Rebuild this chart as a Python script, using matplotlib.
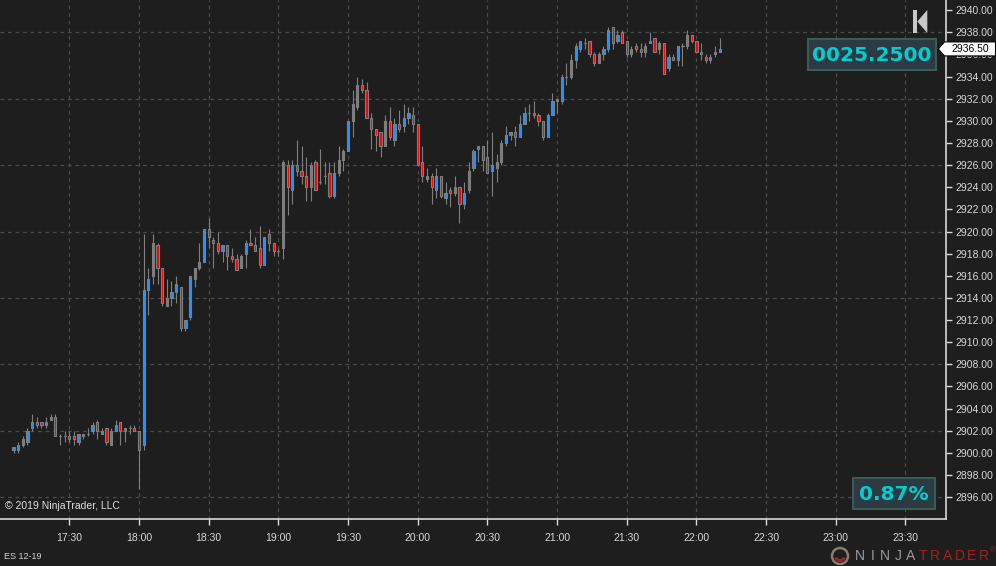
import matplotlib
matplotlib.use('Agg')
import matplotlib.pyplot as plt
import matplotlib.dates as mdates
import matplotlib.transforms as mtransforms
from matplotlib.patches import Rectangle, Polygon, Circle, Wedge
from matplotlib.ticker import FixedLocator, StrMethodFormatter
import numpy as np
import pandas as pd

plt.rcParams['font.family'] = ['Liberation Sans', 'DejaVu Sans']

# ES 12-19, 2 minute bars
bar_start = '2019-09-22 17:06'
opens = [2900.25, 2900.25, 2900.75, 2901.00, 2902.25, 2902.75, 2902.75, 2902.50, 2903.00, 2903.25,
         2901.50, 2901.50, 2901.50, 2901.50, 2901.00, 2901.50, 2901.75, 2902.00, 2902.75, 2901.75,
         2902.25, 2900.75, 2902.00, 2902.75, 2902.00, 2902.25, 2902.25, 2902.00, 2900.75, 2914.75,
         2916.00, 2918.75, 2916.75, 2913.25, 2914.00, 2914.50, 2915.00, 2911.25, 2912.25, 2915.75,
         2916.75, 2917.25, 2920.25, 2919.25, 2919.00, 2918.25, 2918.75, 2917.75, 2917.50, 2916.75,
         2918.00, 2919.00, 2918.75, 2918.50, 2917.00, 2919.75, 2919.00, 2918.25, 2918.50, 2926.00,
         2923.75, 2926.00, 2925.50, 2925.00, 2924.00, 2926.25, 2924.50, 2925.00, 2925.25, 2923.25,
         2925.25, 2926.50, 2927.25, 2930.00, 2931.25, 2933.25, 2932.75, 2930.25, 2929.25, 2929.00,
         2927.75, 2930.00, 2928.25, 2929.75, 2929.50, 2930.25, 2930.50, 2929.75, 2926.25, 2924.75,
         2925.00, 2923.75, 2925.00, 2923.00, 2923.75, 2923.50, 2924.00, 2922.50, 2923.75, 2925.75,
         2927.50, 2927.75, 2926.75, 2925.50, 2925.75, 2926.25, 2928.00, 2928.75, 2929.00, 2928.50,
         2929.75, 2930.75, 2930.75, 2930.50, 2930.00, 2928.50, 2930.50, 2931.75, 2931.75, 2934.00,
         2934.00, 2935.50, 2936.50, 2937.00, 2937.25, 2936.00, 2935.25, 2936.00, 2936.50, 2938.50,
         2937.25, 2938.00, 2937.25, 2936.00, 2936.75, 2936.50, 2936.25, 2937.00, 2937.50, 2936.50,
         2937.00, 2934.75, 2935.75, 2935.50, 2936.75, 2936.75, 2937.75, 2937.25, 2936.25, 2935.75,
         2935.50, 2936.00, 2936.25]
highs = [2900.50, 2901.00, 2901.50, 2902.25, 2903.50, 2903.25, 2902.75, 2903.25, 2903.50, 2903.50,
         2901.75, 2902.00, 2902.00, 2902.00, 2901.75, 2901.75, 2902.25, 2902.75, 2903.00, 2902.25,
         2902.25, 2902.25, 2903.00, 2902.75, 2902.25, 2902.50, 2902.50, 2902.00, 2919.75, 2916.75,
         2919.75, 2919.00, 2916.75, 2915.75, 2915.50, 2916.00, 2915.00, 2912.00, 2916.00, 2916.75,
         2919.00, 2920.25, 2921.25, 2919.50, 2920.00, 2918.75, 2918.75, 2918.50, 2918.00, 2918.00,
         2919.25, 2920.25, 2919.50, 2920.50, 2919.50, 2920.25, 2919.00, 2918.50, 2926.50, 2926.50,
         2926.50, 2928.25, 2927.75, 2926.75, 2926.25, 2926.50, 2927.50, 2926.25, 2926.25, 2926.25,
         2927.75, 2927.50, 2930.00, 2932.75, 2934.00, 2933.75, 2933.50, 2930.75, 2929.25, 2929.00,
         2930.50, 2931.25, 2930.25, 2931.00, 2931.50, 2931.25, 2931.25, 2929.75, 2927.75, 2925.75,
         2925.25, 2925.75, 2925.00, 2924.50, 2924.00, 2925.00, 2924.00, 2924.50, 2926.25, 2927.50,
         2927.75, 2927.75, 2928.25, 2929.00, 2927.00, 2928.25, 2929.50, 2929.00, 2929.50, 2930.50,
         2931.25, 2931.50, 2931.75, 2930.75, 2930.00, 2930.75, 2932.50, 2932.00, 2934.25, 2935.25,
         2936.00, 2937.00, 2937.25, 2937.50, 2937.25, 2936.25, 2936.25, 2936.75, 2938.50, 2938.50,
         2938.25, 2938.25, 2937.25, 2936.75, 2937.00, 2937.00, 2937.00, 2938.00, 2937.50, 2937.25,
         2937.00, 2936.00, 2936.00, 2936.75, 2937.00, 2938.25, 2937.75, 2937.25, 2937.00, 2936.00,
         2936.00, 2936.75, 2937.50]
lows = [2900.00, 2900.00, 2900.50, 2900.75, 2902.00, 2902.25, 2902.25, 2902.25, 2903.00, 2901.50,
        2900.75, 2901.00, 2901.00, 2900.75, 2900.75, 2901.25, 2901.50, 2901.75, 2901.25, 2901.75,
        2900.75, 2900.75, 2902.00, 2900.75, 2901.00, 2901.75, 2902.00, 2896.75, 2900.25, 2912.50,
        2915.25, 2915.25, 2913.25, 2913.25, 2913.25, 2913.50, 2911.00, 2911.00, 2912.00, 2915.00,
        2916.50, 2917.25, 2918.50, 2916.75, 2918.00, 2917.25, 2916.50, 2917.25, 2916.50, 2916.75,
        2916.75, 2918.75, 2918.25, 2916.75, 2917.00, 2918.25, 2917.75, 2917.75, 2917.50, 2921.50,
        2922.50, 2925.00, 2924.25, 2922.75, 2922.75, 2923.75, 2924.25, 2924.25, 2923.00, 2923.00,
        2925.00, 2925.50, 2927.25, 2928.50, 2931.00, 2932.50, 2930.25, 2927.50, 2927.25, 2926.75,
        2927.75, 2928.25, 2927.75, 2929.00, 2929.00, 2929.75, 2929.00, 2926.00, 2924.50, 2924.50,
        2922.50, 2923.00, 2923.00, 2922.50, 2922.25, 2923.25, 2920.75, 2922.00, 2923.50, 2925.50,
        2926.25, 2925.50, 2925.25, 2923.25, 2924.50, 2926.00, 2927.75, 2928.25, 2927.75, 2928.50,
        2929.75, 2930.00, 2930.25, 2929.50, 2928.25, 2928.50, 2930.50, 2930.75, 2931.50, 2933.25,
        2933.75, 2934.75, 2936.25, 2936.50, 2935.75, 2935.00, 2935.25, 2935.50, 2936.25, 2936.50,
        2937.00, 2937.00, 2935.75, 2935.75, 2936.25, 2935.75, 2935.75, 2937.00, 2936.25, 2936.00,
        2934.25, 2934.50, 2935.50, 2935.00, 2935.00, 2936.50, 2937.00, 2936.25, 2935.50, 2935.25,
        2935.25, 2935.75, 2936.25]
closes = [2900.50, 2900.75, 2901.25, 2902.00, 2902.75, 2902.50, 2902.50, 2902.75, 2903.25, 2901.50,
          2901.50, 2901.50, 2901.25, 2901.25, 2901.75, 2901.75, 2901.75, 2902.50, 2902.00, 2902.00,
          2901.00, 2902.00, 2902.50, 2902.00, 2902.25, 2902.25, 2902.00, 2900.25, 2914.75, 2915.75,
          2919.00, 2916.75, 2913.50, 2914.00, 2914.50, 2915.25, 2911.25, 2912.00, 2916.00, 2916.75,
          2917.25, 2920.25, 2919.50, 2919.00, 2918.25, 2918.75, 2917.75, 2917.50, 2916.50, 2917.75,
          2919.00, 2918.75, 2918.25, 2917.00, 2919.50, 2919.00, 2918.25, 2918.25, 2926.25, 2924.00,
          2926.00, 2925.50, 2925.00, 2924.00, 2926.00, 2923.75, 2924.50, 2925.00, 2923.25, 2925.25,
          2926.50, 2927.25, 2930.00, 2931.50, 2933.25, 2932.75, 2930.25, 2929.25, 2928.75, 2927.75,
          2930.00, 2928.50, 2929.75, 2929.25, 2930.25, 2930.75, 2929.75, 2926.00, 2925.00, 2925.00,
          2924.00, 2925.00, 2923.25, 2923.50, 2923.50, 2924.00, 2922.50, 2923.50, 2925.50, 2927.25,
          2927.75, 2926.50, 2925.25, 2926.00, 2926.25, 2928.00, 2928.75, 2929.00, 2928.50, 2929.75,
          2930.75, 2930.75, 2930.50, 2930.00, 2928.50, 2930.50, 2931.75, 2932.00, 2934.00, 2934.00,
          2935.50, 2936.75, 2937.25, 2937.00, 2936.00, 2935.25, 2936.00, 2936.50, 2938.25, 2937.00,
          2937.75, 2937.00, 2936.00, 2936.50, 2936.50, 2936.25, 2936.75, 2937.25, 2936.25, 2937.00,
          2934.25, 2935.75, 2935.50, 2936.75, 2936.75, 2937.75, 2937.25, 2936.25, 2936.00, 2935.50,
          2935.75, 2936.25, 2936.50]

instrument = 'ES 12-19'
last_price = 2936.50
net_change = '0025.2500'
pct_change = '0.87%'
price_ticks = np.arange(2896, 2941, 2)

BG = '#1e1e1e'
UP = '#1e90ff'
DOWN = '#ff0000'
WICK = '#7f7f7f'
AXIS = '#d8d8d8'
GRID = '#4a4a4a'
CYAN = '#00ced1'
BOXBG = '#2c3a44'
BOXEDGE = '#3a5a56'

W, H = 996, 566


def fpos(px, py):
    # pixel position (from top left) -> figure fraction
    return px / W, 1 - py / H


fig = plt.figure(figsize=(W / 100, H / 100), dpi=100, facecolor=BG)
ax = fig.add_axes([0, 46.7 / H, 945.7 / W, 519.3 / H], facecolor=BG)

times = pd.date_range(bar_start, periods=len(closes), freq='2min')
x = mdates.date2num(times)
o = np.array(opens)
h = np.array(highs)
l = np.array(lows)
c = np.array(closes)
bw = 0.95 / 1440.0

body_colors = np.where(c > o, UP, np.where(c < o, DOWN, WICK))
ax.vlines(x, l, h, color=WICK, lw=0.8, zorder=2)
ax.bar(x, np.abs(c - o), width=bw, bottom=np.minimum(o, c), color=body_colors,
       edgecolor=WICK, linewidth=0.8, zorder=3)
doji = c == o
ax.hlines(o[doji], x[doji] - bw / 2, x[doji] + bw / 2, color=WICK, lw=1.0, zorder=3)

# axes ranges
ax.set_xlim(mdates.date2num(pd.Timestamp('2019-09-22 17:00:10')),
            mdates.date2num(pd.Timestamp('2019-09-22 23:47:20')))
ax.set_ylim(2894.0, 2940.92)

ax.xaxis.set_major_locator(mdates.MinuteLocator(byminute=[0, 30]))
ax.xaxis.set_major_formatter(mdates.DateFormatter('%H:%M'))
ax.yaxis.tick_right()
ax.yaxis.set_major_locator(FixedLocator(price_ticks))
ax.yaxis.set_major_formatter(StrMethodFormatter('{x:.2f}'))
ax.tick_params(axis='both', colors=AXIS, labelcolor=AXIS, labelsize=7.5, length=4, width=1, direction='out')
ax.tick_params(axis='x', pad=6)
ax.tick_params(axis='y', pad=3)

for side in ['top', 'left']:
    ax.spines[side].set_visible(False)
for side in ['right', 'bottom']:
    ax.spines[side].set_color(AXIS)
    ax.spines[side].set_linewidth(1.2)

# grid
ax.grid(axis='x', color=GRID, linestyle=(0, (3, 3)), linewidth=0.9)
for gy in np.arange(2896, 2941, 6):
    ax.axhline(gy, color=GRID, linestyle=(0, (3, 3)), linewidth=0.9, zorder=1)
ax.set_axisbelow(True)

# last price marker on the price axis
bt = mtransforms.blended_transform_factory(fig.transFigure, ax.transData)
hh = 7.0 / 11.07
marker = Polygon([(938.3 / W, last_price), (944.5 / W, last_price + hh), (995.5 / W, last_price + hh),
                  (995.5 / W, last_price - hh), (944.5 / W, last_price - hh)],
                 closed=True, transform=bt, facecolor='white', edgecolor='black', lw=0.8,
                 clip_on=False, zorder=10)
fig.add_artist(marker)
fig.text(970 / W, last_price, f'{last_price:.2f}', transform=bt, color='black', fontsize=7.5,
         ha='center', va='center', zorder=11)

# market analyzer style boxes
for (x0, y0, x1, y1), label in [((808.3, 38.5, 935.8, 69.8), net_change),
                                 ((853.3, 478.3, 935.3, 509.3), pct_change)]:
    bx, by = fpos(x0, y1)
    fig.add_artist(Rectangle((bx, by), (x1 - x0) / W, (y1 - y0) / H, transform=fig.transFigure,
                             facecolor=BOXBG, edgecolor=BOXEDGE, lw=1.5, zorder=8))
    tx, ty = fpos((x0 + x1) / 2, (y0 + y1) / 2 + 1)
    fig.text(tx, ty, label, color=CYAN, fontsize=14.5, fontweight='bold', family='DejaVu Sans',
             ha='center', va='center', zorder=9)

# "go to start" icon
ix0, iy0 = fpos(913.3, 33)
fig.add_artist(Rectangle((ix0, iy0), 3.4 / W, 23 / H, transform=fig.transFigure,
                         facecolor='#c8c8c8', edgecolor='none', zorder=8))
fig.add_artist(Polygon([fpos(917.3, 21.5), fpos(927.3, 10), fpos(927.3, 33)], closed=True,
                       transform=fig.transFigure, facecolor='#c8c8c8', edgecolor='none', zorder=8))

# texts
fig.text(*fpos(5, 506), '\u00a9 2019 NinjaTrader, LLC', color='#e0e0e0', fontsize=7.5, va='center')
fig.text(*fpos(4, 556.5), instrument, color='#d0d0d0', fontsize=6.5, va='center')

# logo
lx, ly = 840, H - 556
fig.add_artist(Circle((lx, ly), 8, transform=mtransforms.IdentityTransform(),
                      facecolor='none', edgecolor='#8a7a70', lw=1.8, zorder=8))
fig.add_artist(Wedge((lx, ly), 6, 200, 340, width=3, transform=mtransforms.IdentityTransform(),
                     facecolor='#a82020', edgecolor='none', zorder=9))
for i, ch in enumerate('NINJA'):
    fig.text(*fpos(860 + i * 12.6, 556.5), ch, color='#9a9a9a', fontsize=10, ha='center', va='center')
for i, ch in enumerate('TRADER'):
    fig.text(*fpos(923 + i * 12.2, 556.5), ch, color='#a52020', fontsize=10, ha='center', va='center')
fig.text(*fpos(992, 551), '\u00ae', color='#a52020', fontsize=5, va='center', ha='center')

fig.savefig('out.png', dpi=100, facecolor=BG)
